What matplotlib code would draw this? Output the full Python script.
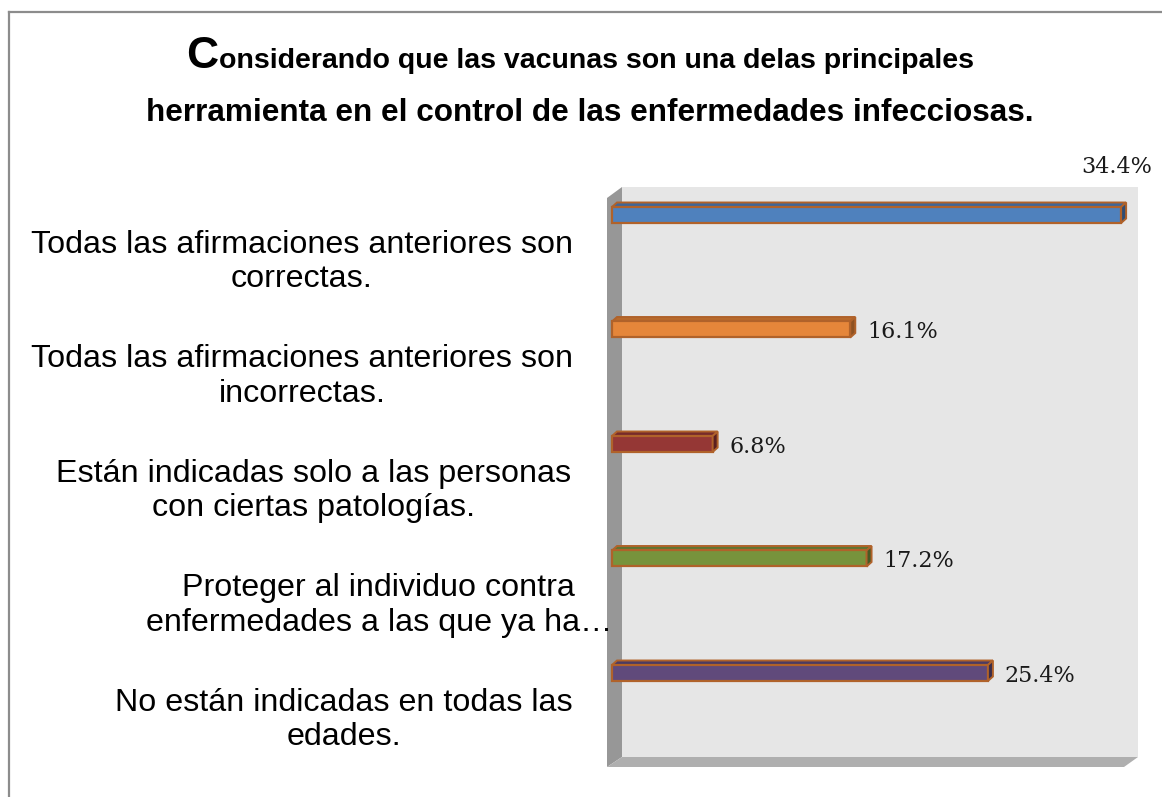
import matplotlib
matplotlib.use("Agg")
import matplotlib.pyplot as plt
from matplotlib.patches import Polygon
from matplotlib.lines import Line2D

# ---------------- data ----------------
categories = [
    "Todas las afirmaciones anteriores son\ncorrectas.",
    "Todas las afirmaciones anteriores son\nincorrectas.",
    "Están indicadas solo a las personas\ncon ciertas patologías.",
    "Proteger al individuo contra\nenfermedades a las que ya ha…",
    "No están indicadas en todas las\nedades.",
]
values = [34.4, 16.1, 6.8, 17.2, 25.4]
value_labels = ["34.4%", "16.1%", "6.8%", "17.2%", "25.4%"]
bar_colors = ["#4F81BD", "#E5863A", "#953735", "#77933C", "#604A7B"]
top_colors = ["#3E6699", "#B86A2C", "#772B2A", "#5E7530", "#4C3B62"]
side_colors = ["#2F4D74", "#8E5222", "#5A2020", "#475924", "#3A2D4A"]
title_first = "C"
title_rest1 = "onsiderando que las vacunas son una delas principales"
title_line2 = "herramienta en el control de las enfermedades infecciosas."

# ---------------- layout ----------------
W, H = 1162, 797
fig = plt.figure(figsize=(W / 100, H / 100), dpi=100)
fx = lambda px: px / W
fy = lambda py: 1 - py / H

# axes region (pixels): x 607..1138, y 187..767
AX_L, AX_R, AX_T, AX_B = 607, 1138, 187, 767
ax = fig.add_axes([fx(AX_L), fy(AX_B), (AX_R - AX_L) / W, (AX_B - AX_T) / H])
X0_PX, PX_PER_UNIT = 612, 14.8
Y0_PX, PX_PER_CAT = 215, 114.5
ax.set_xlim((AX_L - X0_PX) / PX_PER_UNIT, (AX_R - X0_PX) / PX_PER_UNIT)
ax.set_ylim((AX_B - Y0_PX) / PX_PER_CAT, (AX_T - Y0_PX) / PX_PER_CAT)
ax.axis("off")

aw, ah = AX_R - AX_L, AX_B - AX_T
dxw, dyw = 15 / aw, 10 / ah
# back wall
ax.add_patch(Polygon([(dxw, dyw), (1, dyw), (1, 1), (dxw, 1)], closed=True,
                     transform=ax.transAxes, facecolor="#E6E6E6", edgecolor="none", zorder=0))
# left wall
ax.add_patch(Polygon([(0, 0), (dxw, dyw), (dxw, 1), (0, 1 - 11 / ah)], closed=True,
                     transform=ax.transAxes, facecolor="#979797", edgecolor="none", zorder=0))
# floor
ax.add_patch(Polygon([(0, 0), (dxw, dyw), (1, dyw), (1 - 14 / aw, 0)], closed=True,
                     transform=ax.transAxes, facecolor="#AFAFAF", edgecolor="none", zorder=0))

ypos = list(range(len(values)))
bar_h = 16 / PX_PER_CAT
ddx = 5 / PX_PER_UNIT
ddy = 4.5 / PX_PER_CAT
edge = "#B0622A"
ax.barh(ypos, values, height=bar_h, color=bar_colors, edgecolor=edge, linewidth=1.6, zorder=3)
for i, v in enumerate(values):
    top = i - bar_h / 2
    bot = i + bar_h / 2
    ax.add_patch(Polygon([(0, top), (v, top), (v + ddx, top - ddy), (ddx, top - ddy)], closed=True,
                         facecolor=top_colors[i], edgecolor=edge, linewidth=1.4, zorder=2))
    ax.add_patch(Polygon([(v, top), (v + ddx, top - ddy), (v + ddx, bot - ddy), (v, bot)], closed=True,
                         facecolor=side_colors[i], edgecolor=edge, linewidth=1.4, zorder=4))

vmax = max(values)
for i, (v, lab) in enumerate(zip(values, value_labels)):
    if v == vmax:
        ax.text((1117 - X0_PX) / PX_PER_UNIT, (167 - Y0_PX) / PX_PER_CAT, lab, ha="center", va="center",
                fontsize=16, family="DejaVu Serif", color="#1a1a1a", clip_on=False, zorder=5)
    else:
        ax.text(v + 17 / PX_PER_UNIT, i + 3 / PX_PER_CAT, lab, ha="left", va="center",
                fontsize=16, family="DejaVu Serif", color="#1a1a1a", clip_on=False, zorder=5)

# category labels (right edge of each wrapped block, pixels)
label_right_px = [573, 573, 571, 612, 573]
for i, cat in enumerate(categories):
    ax.text((label_right_px[i] - X0_PX) / PX_PER_UNIT, i + 47 / PX_PER_CAT, cat,
            ha="right", va="center", multialignment="center", fontsize=23.2,
            family="Liberation Sans", color="#000000", linespacing=1.18, clip_on=False)

# ---------------- title ----------------
r = fig.canvas.get_renderer()
tC = fig.text(0, fy(68), title_first, fontsize=32, fontweight="bold", family="Liberation Sans",
              ha="left", va="baseline")
tR = fig.text(0, fy(68), title_rest1, fontsize=20.5, fontweight="bold", family="Liberation Sans",
              ha="left", va="baseline")
wC = tC.get_window_extent(r).width
wR = tR.get_window_extent(r).width
start = 580 - (wC + wR) / 2
tC.set_x(fx(start))
tR.set_x(fx(start + wC))
fig.text(fx(590), fy(121), title_line2, fontsize=22.7, fontweight="bold", family="Liberation Sans",
         ha="center", va="baseline")

# outer border (top and left visible)
fig.add_artist(Line2D([fx(9), fx(W)], [fy(12), fy(12)], color="#8C8C8C", linewidth=1.6,
                      transform=fig.transFigure))
fig.add_artist(Line2D([fx(9), fx(9)], [fy(12), fy(H)], color="#8C8C8C", linewidth=1.6,
                      transform=fig.transFigure))

fig.savefig("out.png", dpi=100, facecolor="white")
